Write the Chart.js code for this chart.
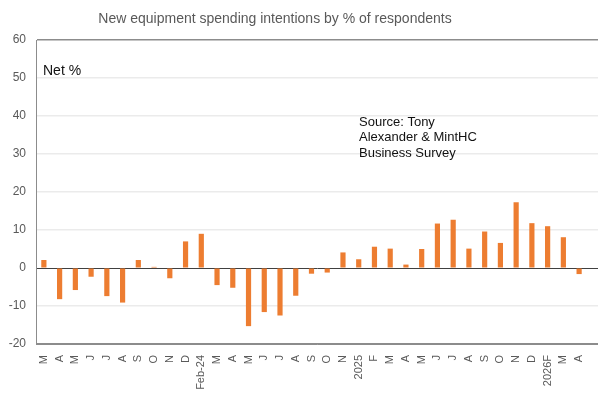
<!DOCTYPE html>
<html>
<head>
<meta charset="utf-8">
<script src="https://cdn.jsdelivr.net/npm/chart.js@4"></script>
<style>
  html, body { margin: 0; padding: 0; background: #fff; }
  #wrap { width: 598px; height: 394px; position: relative; }
</style>
</head>
<body>
<div id="wrap"><canvas id="chart-bar"></canvas></div>
<script>
// month labels, survey runs Mar-23 .. Apr-26F
const monthLabels = [
  "M", "A", "M", "J", "J", "A", "S", "O", "N", "D", "Feb-24",
  "M", "A", "M", "J", "J", "A", "S", "O", "N", "2025",
  "F", "M", "A", "M", "J", "J", "A", "S", "O", "N", "D", "2026F",
  "M", "A"
];

// net % of respondents planning more equipment spending
const netValues = [
  2.1, -8.2, -5.8, -2.3, -7.4, -9.1, 2.1, 0.3, -2.7, 7.0, 9.0,
  -4.5, -5.2, -15.3, -11.6, -12.5, -7.3, -1.5, -1.2, 4.1, 2.3,
  5.6, 5.1, 0.9, 5.0, 11.7, 12.7, 5.1, 9.6, 6.6, 17.3, 11.8, 11.0,
  8.1, -1.6
];

const yTicks = [-20, -10, 0, 10, 20, 30, 40, 50, 60];

const sourceLines = ["Source: Tony", "Alexander & MintHC", "Business Survey"];

const FONT = "'Liberation Sans', Arial, sans-serif";
const GREY_TXT = "#595959";
const BORDER = "#8c8c8c";

// texte libre : titre, "Net %" et la source
const textPlugin = {
  id: "freeText",
  afterDraw(chart) {
    const ctx = chart.ctx;
    ctx.save();
    ctx.textBaseline = "middle";

    ctx.fillStyle = GREY_TXT;
    ctx.font = "14px " + FONT;
    ctx.textAlign = "center";
    ctx.fillText("New equipment spending intentions by % of respondents", 275, 19);

    ctx.textAlign = "left";
    ctx.fillStyle = "#111";
    ctx.font = "14px " + FONT;
    ctx.fillText("Net %", 43, 71);

    ctx.font = "13px " + FONT;
    sourceLines.forEach((line, i) => {
      ctx.fillText(line, 359, 122 + i * 15.5);
    });
    ctx.restore();
  },
};

const points = netValues.map((v, i) => ({ x: i, y: v }));

new Chart(document.getElementById("chart-bar"), {
  type: "bar",
  data: {
    datasets: [
      {
        data: points,
        backgroundColor: "#ED7D31",
        borderWidth: 0,
        barPercentage: 0.33,
        categoryPercentage: 1,
      },
    ],
  },
  options: {
    responsive: true,
    maintainAspectRatio: false,
    animation: false,
    layout: { padding: { top: 40, right: 0, left: 0, bottom: 0 } },
    plugins: {
      legend: { display: false },
      tooltip: { enabled: false },
    },
    scales: {
      x: {
        type: "linear",
        offset: false,
        min: -0.5,
        max: 35.2,
        afterBuildTicks: (scale) => {
          scale.ticks = monthLabels.map((_, i) => ({ value: i }));
        },
        afterFit: (scale) => {
          scale.height = 50;
          scale.paddingLeft = 0;
          scale.paddingRight = 0;
        },
        grid: { display: false, drawTicks: false },
        border: { display: true, color: BORDER, width: 1 },
        ticks: {
          autoSkip: false,
          maxRotation: 90,
          minRotation: 90,
          padding: 11,
          color: GREY_TXT,
          font: { family: FONT, size: 11 },
          callback: (v) => monthLabels[v] ?? "",
        },
      },
      y: {
        min: -20,
        max: 60,
        afterBuildTicks: (scale) => {
          scale.ticks = yTicks.map((v) => ({ value: v }));
        },
        afterFit: (scale) => {
          scale.width = 36;
          scale.paddingTop = 0;
          scale.paddingBottom = 0;
        },
        grid: {
          drawTicks: false,
          color: (c) => {
            const v = c.tick && c.tick.value;
            if (v === 0) return "#404040";
            if (v === 60 || v === -20) return BORDER;
            return "#ebebeb";
          },
          lineWidth: (c) => (c.tick && c.tick.value === 0 ? 1 : 1.5),
        },
        border: { display: true, color: BORDER, width: 1 },
        ticks: {
          padding: 10,
          color: GREY_TXT,
          font: { family: FONT, size: 12 },
        },
      },
    },
  },
  plugins: [textPlugin],
});
</script>
</body>
</html>
